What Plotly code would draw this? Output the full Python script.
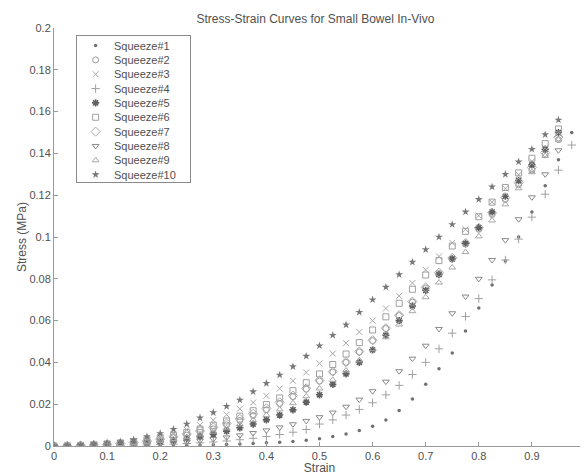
import plotly.graph_objects as go

STRAIN = [0.0, 0.025, 0.05, 0.075, 0.1, 0.125, 0.15, 0.175, 0.2, 0.225,
          0.25, 0.275, 0.3, 0.325, 0.35, 0.375, 0.4, 0.425, 0.45, 0.475,
          0.5, 0.525, 0.55, 0.575, 0.6, 0.625, 0.65, 0.675, 0.7, 0.725,
          0.75, 0.775, 0.8, 0.825, 0.85, 0.875, 0.9, 0.925, 0.95, 0.975]

SQUEEZE_1 = [0, 0, 0, 0, .0001, .0001, .0001, .0002, .0002, .0003,
             .0004, .0005, .0006, .0008, .001, .0012, .0015, .0018, .0022, .0028,
             .0035, .0045, .0058, .0074, .0095, .0125, .017, .0225, .0295, .037,
             .0445, .055, .066, .077, .0885, .100, .112, .1245, .137, .150]
SQUEEZE_2 = [0, .0001, .0002, .0004, .0007, .0011, .0016, .0022, .003, .004,
             .0052, .0066, .0082, .0101, .0122, .0146, .0173, .0203, .0236, .0272,
             .0311, .0354, .0400, .0450, .0504, .0562, .0624, .0689, .0756, .0825,
             .0895, .0966, .1037, .1108, .1179, .1250, .1321, .1393, .1466, None]
SQUEEZE_3 = [0, .0001, .0003, .0006, .001, .0015, .0022, .003, .0042, .0058,
             .0078, .0100, .0124, .0150, .0178, .0208, .0240, .0275, .0312, .0352,
             .0395, .0442, .0492, .0545, .0600, .0658, .0718, .0780, .0843, .0907,
             .0972, .1037, .1102, .1167, .1232, .1297, .1362, .1427, .1495, None]
SQUEEZE_4 = [0, 0, .0001, .0001, .0002, .0003, .0004, .0005, .0007, .0009,
             .0012, .0015, .0019, .0024, .003, .0037, .0045, .0055, .0066, .0079,
             .0105, .0125, .0148, .0175, .0207, .0245, .029, .0342, .040, .0465,
             .054, .062, .0705, .0795, .089, .099, .1095, .1205, .132, .144]
SQUEEZE_5 = [0, .0001, .0002, .0003, .0005, .0008, .0011, .0015, .002, .0027,
             .0035, .0045, .0057, .0071, .0087, .0105, .0125, .0148, .0173, .021,
             .0245, .0295, .0345, .040, .046, .053, .060, .067, .0745, .082,
             .0895, .097, .1045, .112, .1195, .127, .1345, .142, .150, None]
SQUEEZE_6 = [0, .0001, .0003, .0006, .001, .0015, .0021, .0029, .0039, .0051,
             .0065, .0081, .0099, .012, .0143, .0169, .0198, .023, .0265, .0303,
             .0345, .039, .044, .0495, .0555, .0618, .0683, .075, .0818, .0887,
             .0957, .1027, .1097, .1167, .1237, .1307, .1377, .1447, .1517, None]
SQUEEZE_7 = [0, .0001, .0003, .0005, .0008, .0012, .0017, .0024, .0033, .0044,
             .0057, .0072, .0089, .0108, .013, .0154, .018, .0209, .0241, .0276,
             .0314, .0356, .0402, .0452, .0506, .0564, .0626, .0691, .0759, .0829,
             .0900, .0972, .1044, .1116, .1188, .1260, .1332, .1404, .1478, None]
SQUEEZE_8 = [0, .0001, .0001, .0002, .0003, .0004, .0006, .0008, .0011, .0015,
             .002, .0026, .0033, .0041, .0051, .0062, .0075, .0089, .0104, .012,
             .0138, .016, .0188, .0222, .0262, .0308, .0358, .0418, .048, .056,
             .0635, .0715, .080, .089, .0985, .1085, .119, .130, .1415, None]
SQUEEZE_9 = [0, .0001, .0002, .0004, .0006, .0009, .0013, .0018, .0025, .0033,
             .0043, .0055, .0069, .0085, .0103, .0124, .0148, .0175, .0205, .0238,
             .0275, .0316, .0361, .0410, .0463, .0520, .0581, .0645, .0712, .0782,
             .0854, .0928, .1003, .1079, .1156, .1233, .1310, .1388, .1466, None]
SQUEEZE_10 = [0, .0002, .0005, .001, .0015, .002, .003, .0045, .006, .008,
              .0105, .0135, .016, .019, .022, .026, .030, .034, .038, .043,
              .048, .053, .058, .064, .070, .076, .082, .088, .094, .100,
              .106, .112, .118, .124, .130, .136, .142, .149, .156, None]

NAMES = ["Squeeze#1", "Squeeze#2", "Squeeze#3", "Squeeze#4", "Squeeze#5",
         "Squeeze#6", "Squeeze#7", "Squeeze#8", "Squeeze#9", "Squeeze#10"]
SERIES = [SQUEEZE_1, SQUEEZE_2, SQUEEZE_3, SQUEEZE_4, SQUEEZE_5,
          SQUEEZE_6, SQUEEZE_7, SQUEEZE_8, SQUEEZE_9, SQUEEZE_10]
X_TICKS = [0, 0.1, 0.2, 0.3, 0.4, 0.5, 0.6, 0.7, 0.8, 0.9, 1]
Y_TICKS = [0, 0.02, 0.04, 0.06, 0.08, 0.1, 0.12, 0.14, 0.16, 0.18, 0.2]

STYLES = [
    dict(symbol="circle", size=3.5, color="#707070", line=dict(width=0)),
    dict(symbol="circle-open", size=6, color="#9a9a9a", line=dict(width=1)),
    dict(symbol="x-thin-open", size=6, color="#a8a8a8", line=dict(width=1)),
    dict(symbol="cross-thin-open", size=6, color="#a0a0a0", line=dict(width=1)),
    dict(symbol="asterisk-open", size=6, color="#606060", line=dict(width=1.6)),
    dict(symbol="square-open", size=6, color="#a0a0a0", line=dict(width=1)),
    dict(symbol="diamond-open", size=7, color="#a8a8a8", line=dict(width=1)),
    dict(symbol="triangle-down-open", size=6, color="#8a8a8a", line=dict(width=1)),
    dict(symbol="triangle-up-open", size=6, color="#a8a8a8", line=dict(width=1)),
    dict(symbol="star", size=6, color="#787878", line=dict(width=0)),
]

font_c = "#505050"
axis_c = "#9a9a9a"
FONT = "Liberation Sans, Arial, sans-serif"

fig = go.Figure()
for name, ys, st in zip(NAMES, SERIES, STYLES):
    fig.add_trace(go.Scatter(x=STRAIN, y=ys, mode="markers", name=name,
                             marker=st, showlegend=False))

# Legend box drawn MATLAB-style in an inset axis (one row per series).
for i, (name, st) in enumerate(zip(NAMES, STYLES)):
    fig.add_trace(go.Scatter(x=[18], y=[i + 1], mode="markers", marker=st,
                             xaxis="x2", yaxis="y2", showlegend=False,
                             hoverinfo="skip"))
    fig.add_annotation(x=34, y=i + 1, xref="x2", yref="y2", text=name,
                       showarrow=False, xanchor="left", yanchor="middle",
                       font=dict(size=11, color=font_c, family=FONT))

# The page body adds an 8px offset, so the figure is 8px smaller than the window.
fig.update_layout(
    width=580, height=467,
    margin=dict(l=46, r=3, t=20, b=29),
    paper_bgcolor="white", plot_bgcolor="white",
    font=dict(family=FONT, size=11, color=font_c),
    title=dict(text="Stress-Strain Curves for Small Bowel In-Vivo", x=0.53,
               xanchor="center", y=0.976, yanchor="middle",
               font=dict(size=12, color=font_c)),
    showlegend=False,
    xaxis=dict(range=[0, 1], tickvals=X_TICKS,
               ticktext=[f"{v:g}" for v in X_TICKS],
               showgrid=False, zeroline=False, showline=True,
               linecolor=axis_c, linewidth=1, ticks="inside",
               ticklen=4, tickcolor=axis_c, automargin=False,
               tickfont=dict(size=11),
               title=dict(text="Strain", standoff=0, font=dict(size=12))),
    yaxis=dict(range=[0, 0.2], tickvals=Y_TICKS,
               ticktext=[f"{v:g}" for v in Y_TICKS],
               showgrid=False, zeroline=False, showline=True,
               linecolor=axis_c, linewidth=1, ticks="inside",
               ticklen=4, tickcolor=axis_c, automargin=False,
               tickfont=dict(size=11),
               title=dict(text="Stress (MPa)", standoff=0, font=dict(size=12))),
    xaxis2=dict(domain=[0.044, 0.256], range=[0, 111], anchor="y2",
                showgrid=False, zeroline=False, showticklabels=False,
                ticks="", showline=True, mirror=True, linecolor="#8a8a8a",
                linewidth=1, fixedrange=True),
    yaxis2=dict(domain=[0.632, 0.980], range=[10.5, 0.36], anchor="x2",
                showgrid=False, zeroline=False, showticklabels=False,
                ticks="", showline=True, mirror=True, linecolor="#8a8a8a",
                linewidth=1, fixedrange=True),
)

fig.write_html("out.html")
